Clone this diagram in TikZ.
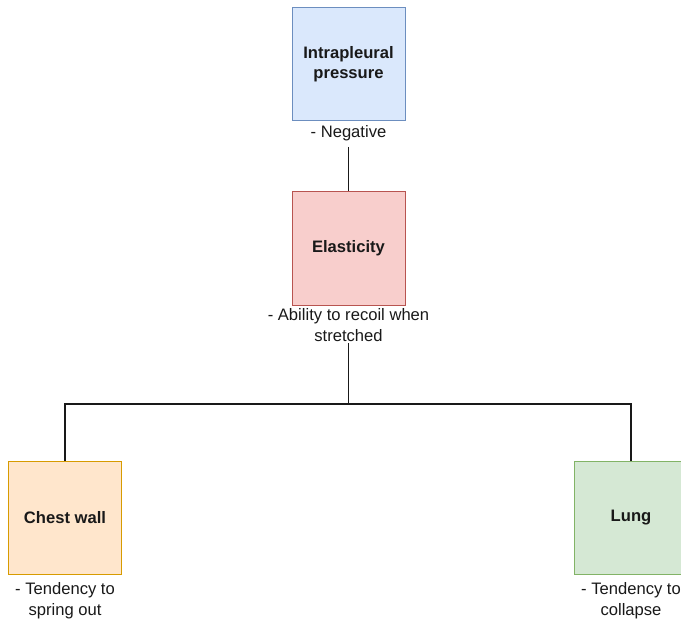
\documentclass[tikz,border=0pt]{standalone}
\usepackage{fontspec}
\setmainfont{Liberation Sans}
\definecolor{ipfill}{HTML}{DAE8FC}\definecolor{ipline}{HTML}{6C8EBF}
\definecolor{elfill}{HTML}{F8CECC}\definecolor{elline}{HTML}{B85450}
\definecolor{cwfill}{HTML}{FFE6CC}\definecolor{cwline}{HTML}{D79B00}
\definecolor{lgfill}{HTML}{D5E8D4}\definecolor{lgline}{HTML}{82B366}
\begin{document}
\begin{tikzpicture}[x=1pt,y=-1pt,
  box/.style={draw, line width=1pt, minimum width=113pt, minimum height=113pt,
    inner sep=0pt, align=center, text=black!90,
    font=\fontsize{16.6}{20}\selectfont\bfseries},
  note/.style={align=center, inner sep=1pt, text=black!90,
    font=\fontsize{16.6}{21}\selectfont},
  link/.style={draw=black!90, line width=1.1pt}]
\useasboundingbox (0,0) rectangle (681,623);
\clip (0,0) rectangle (681,623);

% boxes
\node[box, fill=ipfill, draw=ipline] (ip) at (348.5,64.5) {Intrapleural\\pressure};
\node[box, fill=elfill, draw=elline] (el) at (348.5,248.5) {Elasticity};
\node[box, fill=cwfill, draw=cwline] (cw) at (65,517.5) {Chest wall};
\node[box, fill=lgfill, draw=lgline] (lg) at (631,517.5) {Lung};

% notes under the boxes
\node[note] (ipn) at (348.5,133) {- Negative};
\node[note] (eln) at (348.5,325.5) {- Ability to recoil when\\stretched};
\node[note] (cwn) at (65,601) {- Tendency to\\spring out};
\node[note] (lgn) at (631,601) {- Tendency to\\collapse};

% connectors
\coordinate (j) at (348.5,404);
\draw[link, shorten <=5pt] (ipn.south) -- (el.north);
\draw[link] (eln.south) -- (j) -| (cw.north);
\draw[link] (j) -| (lg.north);
\end{tikzpicture}
\end{document}
